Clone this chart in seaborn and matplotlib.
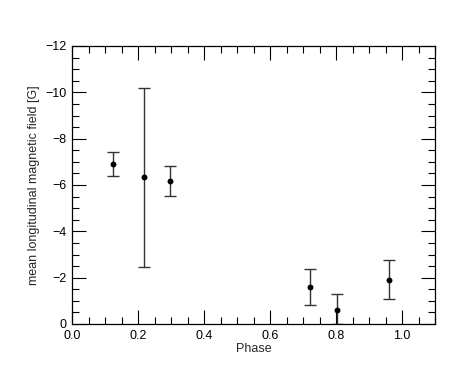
import matplotlib
matplotlib.use("Agg")
import matplotlib.pyplot as plt
import seaborn as sns
import pandas as pd
from matplotlib.ticker import MultipleLocator

phase = [0.124, 0.218, 0.296, 0.721, 0.803, 0.962]
field = [-6.92, -6.34, -6.17, -1.60, -0.60, -1.90]
err_low = [0.52, 3.87, 0.63, 0.79, 0.60, 0.83]   # towards less negative
err_high = [0.51, 3.86, 0.65, 0.79, 0.71, 0.85]  # towards more negative

sns.set_theme(style="ticks")
plt.rcParams['font.family'] = ['Liberation Sans', 'DejaVu Sans']

df = pd.DataFrame({"Phase": phase, "field": field})

fig = plt.figure(figsize=(4.74, 3.79), dpi=100)
ax = fig.add_axes([72/474, 1-324/379, (435-72)/474, (324-46)/379])

yerr = [err_high, err_low]
ax.errorbar(phase, field, yerr=yerr, fmt='none', ecolor='#333333',
            elinewidth=1.0, capsize=4, capthick=1.0, zorder=2)
sns.scatterplot(data=df, x="Phase", y="field", color='black', s=18,
                edgecolor='black', linewidth=0, ax=ax, zorder=3)

ax.set_xlim(0, 1.1)
ax.set_ylim(0, -12)
ax.xaxis.set_major_locator(MultipleLocator(0.2))
ax.xaxis.set_minor_locator(MultipleLocator(0.05))
ax.yaxis.set_major_locator(MultipleLocator(2))
ax.yaxis.set_minor_locator(MultipleLocator(0.5))
ax.xaxis.set_major_formatter(matplotlib.ticker.FuncFormatter(lambda v, p: f"{v:.1f}"))
ax.yaxis.set_major_formatter(matplotlib.ticker.FuncFormatter(
    lambda v, p: "0" if abs(v) < 1e-9 else f"\u2212{abs(v):.0f}"))

ax.tick_params(which='both', direction='in', top=True, right=True,
               labelsize=9, width=0.8, colors='black')
ax.tick_params(which='major', length=10, pad=4)
ax.tick_params(which='minor', length=5)
for s in ax.spines.values():
    s.set_linewidth(0.9)
    s.set_color('black')

ax.set_xlabel("Phase", fontsize=9, labelpad=1)
ax.set_ylabel("mean longitudinal magnetic field [G]", fontsize=9, labelpad=4)

fig.savefig("out.png", dpi=100)
